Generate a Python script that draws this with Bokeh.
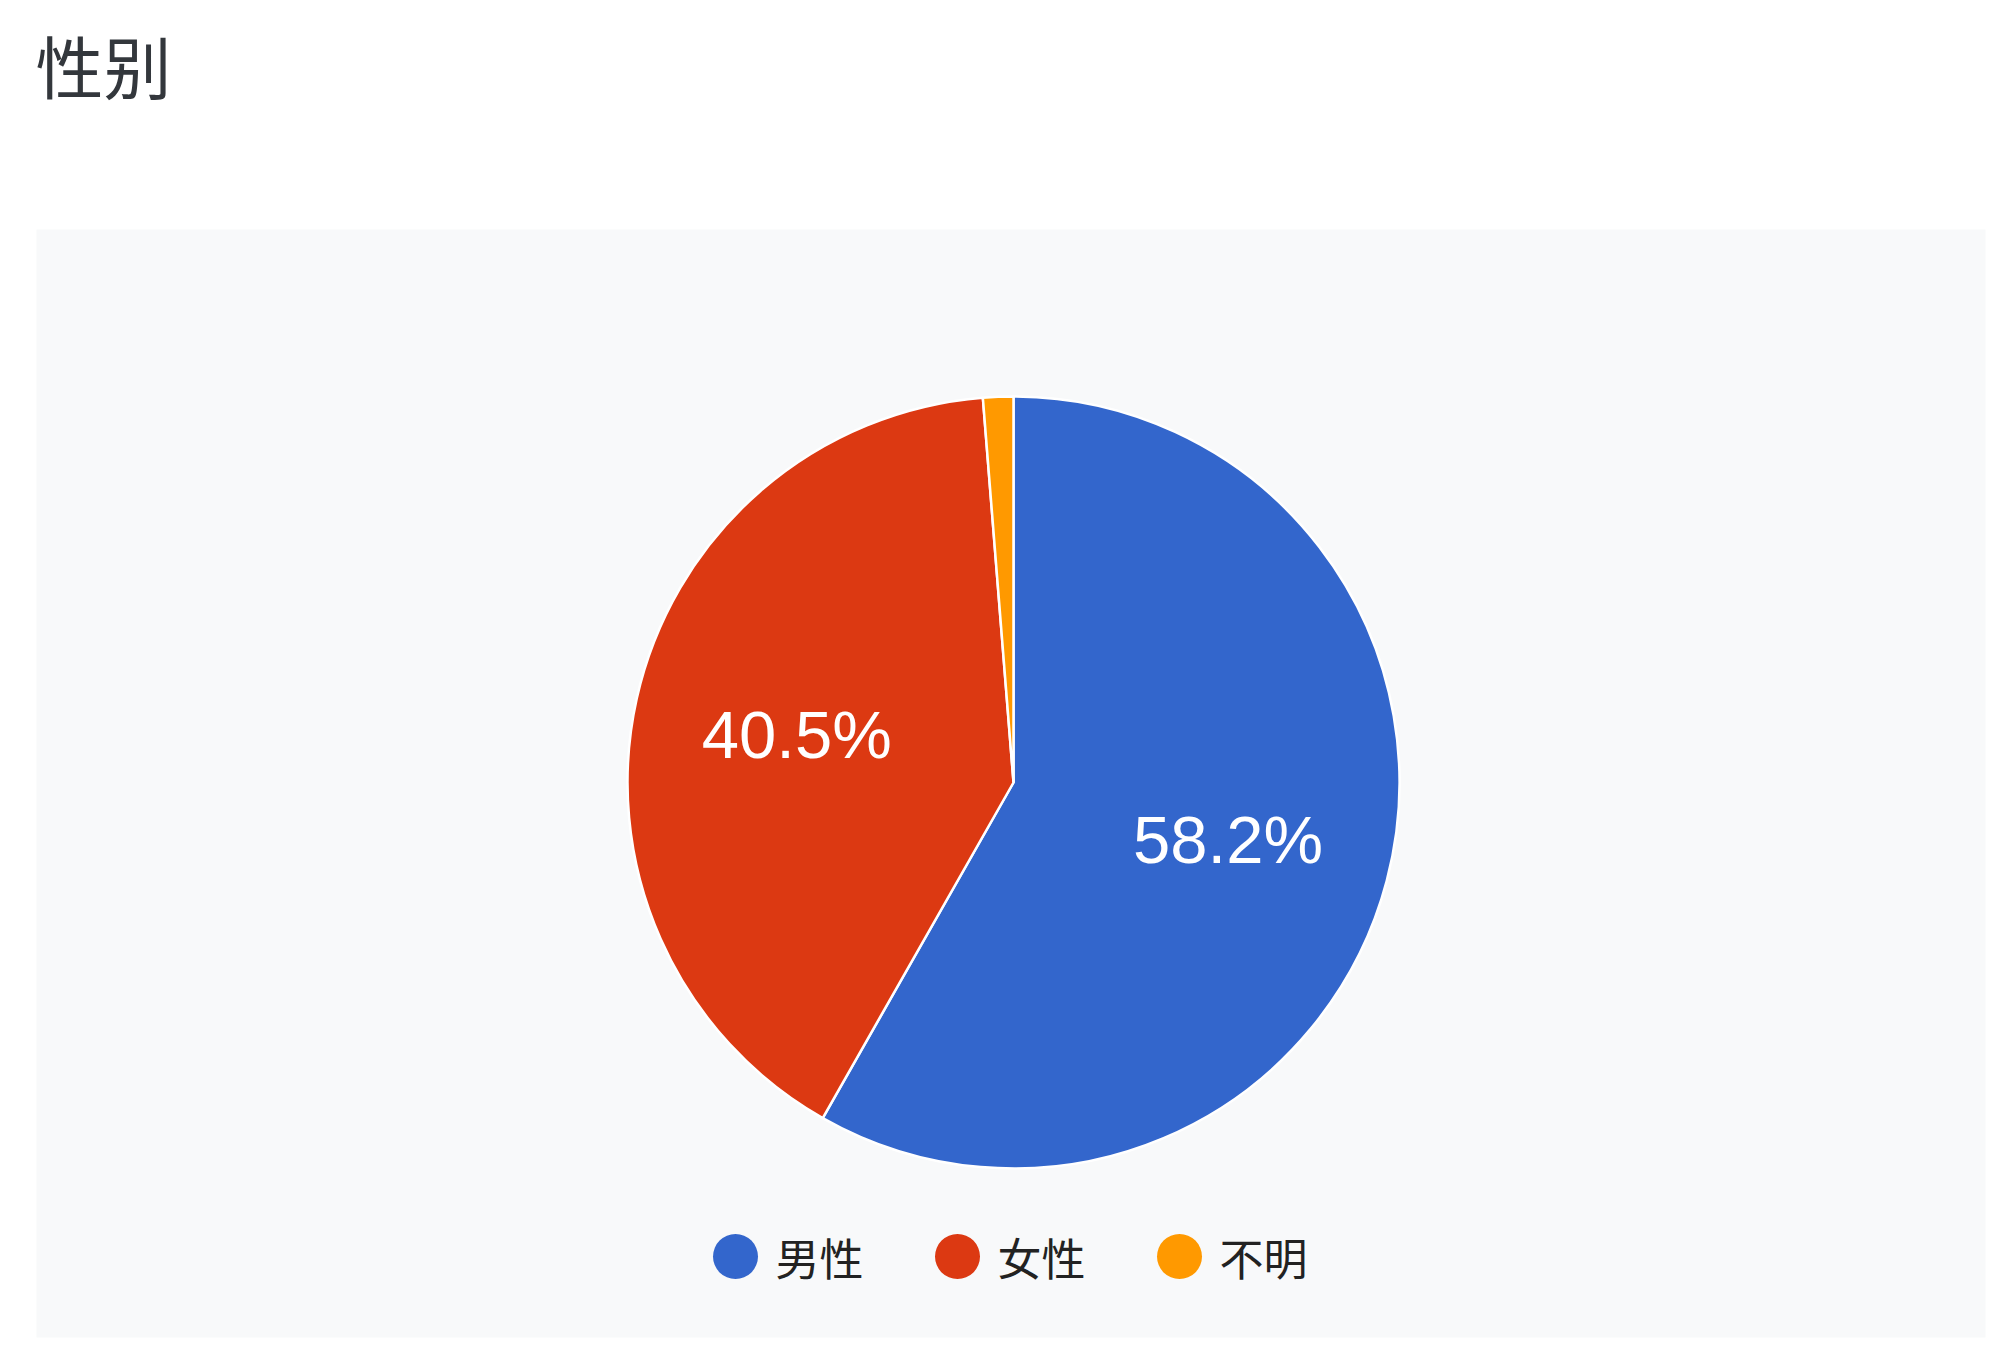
import numpy as np
from bokeh.plotting import figure
from bokeh.models import Range1d, ColumnDataSource
from bokeh.core.properties import value
from bokeh.embed import file_html
from bokeh.resources import INLINE

# ---- data ----
title = "性别"
categories = ["男性", "女性", "不明"]
counts = [46, 32, 1]
colors = ["#3366cc", "#dc3912", "#ff9900"]

# ---- derived ----
counts_arr = np.array(counts, dtype=float)
frac = counts_arr / counts_arr.sum()
cum = np.cumsum(frac)
start = np.pi / 2 - (cum - frac) * 2 * np.pi
end = np.pi / 2 - cum * 2 * np.pi
mid = (start + end) / 2
pct_text = [f"{f*100:.1f}%" for f in frac]

# layout (page pixel coords: data x = page x, data y = -page y)
W, H = 1998, 1354
cx, cy, R = 1013, -782, 386
panel = dict(left=36, right=1985, top=-229, bottom=-1337)

p = figure(width=W, height=H, x_range=Range1d(0, W), y_range=Range1d(-H, 0),
           output_backend="svg", toolbar_location=None, min_border=0,
           x_axis_type=None, y_axis_type=None)
p.outline_line_color = None
p.background_fill_color = "white"
p.border_fill_color = "white"

# panel background
p.quad(left=[panel["left"]], right=[panel["right"]], top=[panel["top"]], bottom=[panel["bottom"]],
       fill_color="#f8f9fa", line_color=None)

# title
p.text(x=[35], y=[-64], text=[title], text_font=value("Noto Sans CJK SC"),
       text_font_size="68px", text_color="#33373c", text_baseline="middle", text_align="left")

# pie
src = ColumnDataSource(dict(start=start, end=end, color=colors, cat=categories))
p.wedge(x=cx, y=cy, radius=R, start_angle="start", end_angle="end", direction="clock",
        fill_color="color", line_color="white", line_width=2.5, source=src)

# slice labels
show = frac > 0.05
lr = 0.575 * R
lx = cx + lr * np.cos(mid[show])
ly = cy + lr * np.sin(mid[show])
p.text(x=lx, y=ly, text=[t for t, s in zip(pct_text, show) if s],
       text_font=value("Liberation Sans"), text_font_size="67px", text_color="white",
       text_align="center", text_baseline="middle")

# legend
leg_x = 735 + 222 * np.arange(len(categories))
leg_y = np.full(len(categories), -1256)
p.scatter(x=leg_x, y=leg_y, size=45, marker="circle", fill_color=colors, line_color=None)
p.text(x=leg_x + 40, y=leg_y, text=categories, text_font=value("Noto Sans CJK SC"),
       text_font_size="44px", text_color="#222222", text_align="left", text_baseline="middle")

open("out.html", "w").write(file_html(p, INLINE))
